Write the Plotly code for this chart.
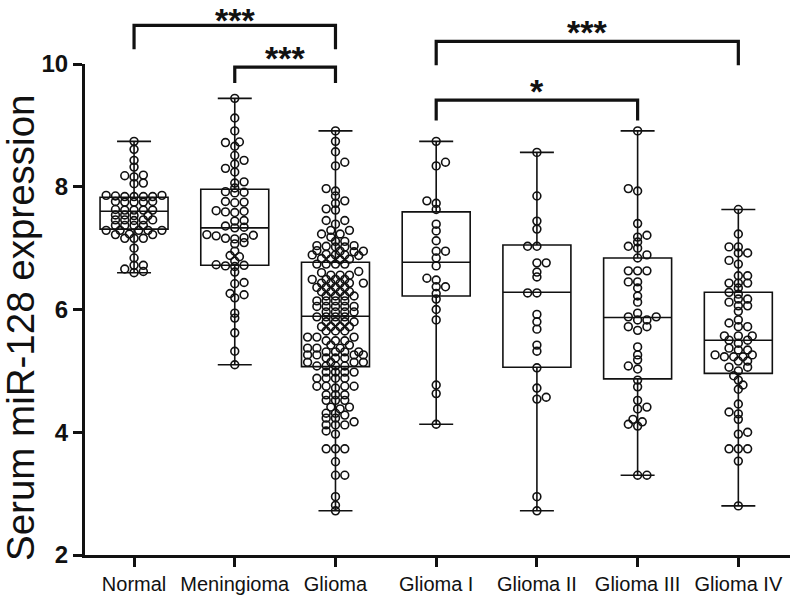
import numpy as np
import plotly.graph_objects as go

# ---------------- data ----------------
CATEGORIES = ["Normal", "Meningioma", "Glioma", "Glioma I", "Glioma II", "Glioma III", "Glioma IV"]

NORMAL = [8.74, 8.61, 8.43, 8.32, 8.19, 8.16, 8.18, 8.06, 8.05,
          7.84, 7.84, 7.85, 7.84, 7.84, 7.86, 7.86,
          7.75, 7.75, 7.76, 7.76, 7.75,
          7.62, 7.62, 7.63, 7.62, 7.62,
          7.54, 7.53, 7.54, 7.53,
          7.46, 7.46, 7.46, 7.46, 7.45,
          7.37, 7.37, 7.37, 7.37,
          7.29, 7.29, 7.29, 7.29, 7.29,
          7.22, 7.23, 7.22,
          7.16, 7.16, 7.16,
          7.00, 6.84, 6.72, 6.66, 6.72, 6.60, 6.62]

MENINGIOMA = [9.44, 9.12, 8.91, 8.73, 8.72, 8.66, 8.51, 8.43, 8.37, 8.30, 8.24, 8.08,
              8.06, 7.98, 7.92, 7.91, 7.90, 7.76, 7.75, 7.74, 7.61, 7.60, 7.59, 7.58,
              7.45, 7.44, 7.36, 7.34, 7.33, 7.22, 7.21, 7.20, 7.17, 7.16, 7.15, 7.09,
              7.07, 6.95, 6.88, 6.86, 6.79, 6.73, 6.72, 6.71, 6.70, 6.61, 6.44, 6.42,
              6.26, 6.24, 6.19, 5.94, 5.86, 5.62, 5.32, 5.10]

GLIOMA = [8.91, 8.74, 8.57, 8.40, 8.34, 7.97, 7.93, 7.85, 7.77, 7.73, 7.64, 7.62,
          7.45, 7.45, 7.39, 7.29, 7.29, 7.23, 7.23, 7.18, 7.11, 7.11,
          7.04, 7.03, 7.02, 7.04, 7.02,
          6.96, 6.95, 6.95, 6.94,
          6.89, 6.89, 6.88, 6.89, 6.90,
          6.82, 6.83, 6.82, 6.81,
          6.74, 6.74, 6.74, 6.74,
          6.62, 6.60, 6.56, 6.56, 6.56,
          6.49, 6.49, 6.49, 6.49,
          6.43, 6.43, 6.43, 6.43, 6.43,
          6.36, 6.36, 6.36, 6.36,
          6.29, 6.29, 6.29, 6.29,
          6.22, 6.22, 6.22, 6.22,
          6.14, 6.14, 6.14, 6.14,
          6.05, 6.05, 6.05, 6.05, 6.05,
          5.96, 5.96, 5.96, 5.96,
          5.88, 5.88, 5.88, 5.88,
          5.80, 5.80, 5.80, 5.80,
          5.72, 5.72, 5.72, 5.72,
          5.65, 5.65, 5.65,
          5.55, 5.55, 5.55,
          5.49, 5.49, 5.49,
          5.42, 5.42,
          5.37, 5.37, 5.37,
          5.31, 5.31, 5.31, 5.31,
          5.26, 5.26, 5.26, 5.26,
          5.21, 5.21, 5.21,
          5.14, 5.14, 5.14, 5.14,
          5.08, 5.08, 5.08, 5.08,
          4.98, 4.98, 4.98, 4.98,
          4.88, 4.88, 4.88, 4.88,
          4.75, 4.75, 4.75, 4.75, 4.72,
          4.61, 4.61, 4.61,
          4.52, 4.52, 4.52,
          4.41, 4.41, 4.38,
          4.31, 4.31, 4.28,
          4.23, 4.23, 4.17,
          4.12, 4.12, 4.12,
          4.02, 3.97,
          3.73, 3.73, 3.73,
          3.52, 3.30, 3.30, 2.95, 2.81, 2.72]

GLIOMA_I = [8.74, 8.40, 8.34, 7.77, 7.73, 7.63, 7.39, 7.28, 7.12, 6.95, 6.95, 6.84,
            6.71, 6.51, 6.48, 6.37, 6.37, 6.26, 6.17, 6.00, 5.83, 4.77, 4.63, 4.13]

GLIOMA_II = [8.56, 7.85, 7.44, 7.31, 7.03, 7.03, 6.76, 6.76, 6.61, 6.53, 6.27, 6.27,
             5.92, 5.80, 5.68, 5.42, 5.32, 5.05, 4.72, 4.57, 4.54, 2.95, 2.72]

GLIOMA_III = [8.91, 7.97, 7.93, 7.40, 7.21, 7.18, 7.10, 7.03, 7.00, 6.89, 6.84, 6.63,
              6.63, 6.63, 6.45, 6.45, 6.35, 6.22, 6.12, 5.94, 5.88, 5.88, 5.83, 5.83,
              5.72, 5.72, 5.66, 5.39, 5.26, 5.18, 5.08, 5.03, 4.85, 4.74, 4.52, 4.41,
              4.38, 4.21, 4.17, 4.13, 4.10, 3.30, 3.30]

GLIOMA_IV = [7.63, 7.23, 7.02, 7.02, 6.92, 6.92, 6.80, 6.74, 6.55, 6.55, 6.43, 6.43,
             6.43, 6.35, 6.28, 6.25, 6.17, 6.17, 6.12, 6.06, 6.06, 5.97, 5.83, 5.78,
             5.72, 5.72, 5.57, 5.57, 5.57, 5.50, 5.50, 5.45, 5.37, 5.34, 5.34, 5.26,
             5.26, 5.23, 5.23, 5.23, 5.16, 5.16, 5.06, 5.06, 5.00, 4.92, 4.85, 4.77,
             4.70, 4.46, 4.33, 4.30, 4.21, 4.00, 3.97, 3.73, 3.73, 3.73, 3.53, 2.80]

# box statistics (quartiles and median)
Q1 = [7.31, 6.72, 5.07, 6.22, 5.06, 4.87, 4.96]
MEDIAN = [7.60, 7.33, 5.89, 6.77, 6.28, 5.87, 5.50]
Q3 = [7.83, 7.96, 6.77, 7.59, 7.05, 6.84, 6.28]

Y_TICKS = [2, 4, 6, 8, 10]
Y_TITLE = "Serum miR-128 expression"

# significance brackets: (group a, group b, bar level, foot level, label)
BRACKETS = [
    (0, 2, 10.63, 10.24, "***"),
    (1, 2, 9.95, 9.69, "***"),
    (3, 6, 10.37, 9.98, "***"),
    (3, 5, 9.41, 9.08, "*"),
]

GROUPS = [NORMAL, MENINGIOMA, GLIOMA, GLIOMA_I, GLIOMA_II, GLIOMA_III, GLIOMA_IV]

# ---------------- layout constants ----------------
W, H = 800, 597
ML, MR, MT, MB = 85, 10, 64, 42
XR = [-0.487, 6.513]
YR = [2, 10]
PLOT_W, PLOT_H = W - ML - MR, H - MT - MB
PX_X = PLOT_W / (XR[1] - XR[0])
PX_Y = PLOT_H / (YR[1] - YR[0])
INK = "#111111"
FONT = "Liberation Sans, Arial, sans-serif"
STAR_SIZE = 34
STAR_LIFT = 9          # px between bracket bar and the centre of the label box
STAR_MIN_TOP = 20      # keep the label box inside the page


def swarm(values, d=9.3, k=2.1, step=4.65, max_w=28.0):
    """Deterministic beeswarm offsets (in x data units), bounded to +-max_w px."""
    vals = np.asarray(values, dtype=float)
    order = np.argsort(vals, kind="stable")
    placed = []
    offs = np.zeros(len(vals))
    pref = 1
    nmax = int(max_w // step)
    for idx in order:
        y = vals[idx] * PX_Y
        near = [(px, py) for px, py in placed if abs(py - y) * k < d]
        cands = [0.0]
        for m in range(1, nmax + 1):
            cands += [pref * m * step, -pref * m * step]
        chosen = None
        best, best_score = 0.0, -1.0
        for c in cands:
            dmin = min([np.hypot(c - px, k * (y - py)) for px, py in near] or [1e9])
            if dmin >= d:
                chosen = c
                break
            if dmin > best_score + 1e-9:
                best, best_score = c, dmin
        if chosen is None:
            chosen = best
        placed.append((chosen, y))
        offs[idx] = chosen / PX_X
        if chosen != 0:
            pref = -1 if chosen > 0 else 1
    return offs


fig = go.Figure()

for i, vals in enumerate(GROUPS):
    fig.add_trace(go.Box(
        x=[i], q1=[Q1[i]], median=[MEDIAN[i]], q3=[Q3[i]],
        lowerfence=[min(vals)], upperfence=[max(vals)],
        width=0.675, whiskerwidth=0.5, boxpoints=False,
        line=dict(color=INK, width=1.6), fillcolor="rgba(0,0,0,0)",
        showlegend=False, hoverinfo="skip",
    ))

for i, vals in enumerate(GROUPS):
    offs = swarm(vals)
    fig.add_trace(go.Scatter(
        x=i + offs, y=vals, mode="markers",
        marker=dict(symbol="circle-open", size=7.8, color=INK, line=dict(width=1.6, color=INK)),
        showlegend=False, hoverinfo="y", cliponaxis=False,
    ))


def to_paper(v):
    return (v - YR[0]) / (YR[1] - YR[0])


for a, b, top, foot, label in BRACKETS:
    yt, yf = to_paper(top), to_paper(foot)
    fig.add_shape(type="path", xref="x", yref="paper",
                  path=f"M {a},{yf} L {a},{yt} L {b},{yt} L {b},{yf}",
                  line=dict(color=INK, width=3.2), layer="above")
    bar_px = MT + (1 - yt) * PLOT_H            # bar position measured from page top
    lift = min(STAR_LIFT, bar_px - STAR_MIN_TOP)
    fig.add_annotation(x=(a + b) / 2, y=yt, xref="x", yref="paper",
                       text=label, showarrow=False, yanchor="middle", yshift=lift,
                       font=dict(family=FONT, size=STAR_SIZE, color=INK, weight="bold"))

# y-axis title as a rotated annotation (placed as in the reference)
fig.add_annotation(x=-65 / PLOT_W, y=(555 - 328) / PLOT_H,
                   xref="paper", yref="paper", text=Y_TITLE, textangle=-90,
                   showarrow=False, xanchor="center", yanchor="middle",
                   font=dict(family=FONT, size=38.5, color=INK))

fig.update_layout(
    width=W, height=H,
    margin=dict(l=ML, r=MR, t=MT, b=MB, autoexpand=False),
    paper_bgcolor="white", plot_bgcolor="white",
    font=dict(family=FONT, color=INK),
    xaxis=dict(range=XR, tickmode="array", tickvals=list(range(len(CATEGORIES))),
               ticktext=CATEGORIES, showgrid=False, zeroline=False, automargin=False,
               showline=True, linewidth=3, linecolor=INK,
               ticks="outside", ticklen=9, tickwidth=3, tickcolor=INK,
               tickfont=dict(family=FONT, size=20, color=INK)),
    yaxis=dict(range=YR, tickmode="array", tickvals=Y_TICKS,
               showgrid=False, zeroline=False, automargin=False,
               showline=True, linewidth=3, linecolor=INK,
               ticks="outside", ticklen=9, tickwidth=3, tickcolor=INK,
               tickfont=dict(family=FONT, size=24, color=INK, weight="bold")),
)

# remove the page's default 8px body margin so the figure sits at the window origin
fig.write_html("out.html", config={"displayModeBar": False},
               post_script="document.body.style.margin='0';document.body.style.overflow='hidden';")
